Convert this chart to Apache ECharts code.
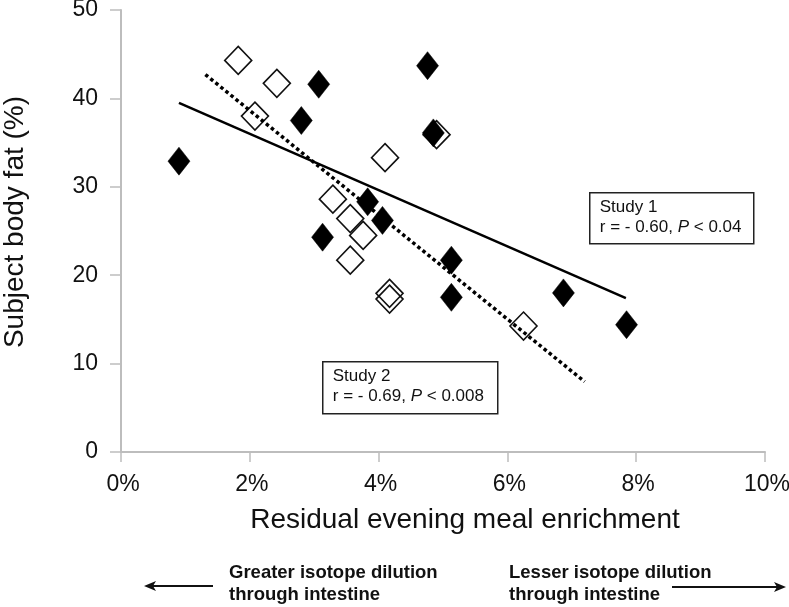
<!DOCTYPE html>
<html>
<head>
<meta charset="utf-8">
<script src="https://cdn.jsdelivr.net/npm/echarts@6/dist/echarts.min.js"></script>
<style>
html,body{margin:0;padding:0;background:#fff;}
#chart{width:789px;height:607px;}
</style>
</head>
<body>
<div id="chart"></div>
<script>
// Study 1 (filled diamonds, solid regression line)
const study1X = [0.90, 2.80, 3.07, 3.13, 3.83, 4.06, 4.76, 4.85, 5.13, 5.13, 6.87, 7.85];
const study1Y = [32.9, 37.5, 41.6, 24.3, 28.3, 26.2, 43.7, 36.1, 21.7, 17.5, 18.0, 14.4];
// Study 2 (open diamonds, dotted regression line)
const study2X = [1.82, 2.08, 2.42, 3.29, 3.56, 3.56, 3.76, 4.10, 4.17, 4.17, 4.90, 6.25];
const study2Y = [44.3, 38.0, 41.7, 28.6, 26.4, 21.7, 24.5, 33.3, 17.95, 17.3, 35.9, 14.25];
// regression line end points
const fit1X = [0.90, 7.84];
const fit1Y = [39.5, 17.4];
const fit2X = [1.31, 7.20];
const fit2Y = [42.7, 7.95];
// axes
const xTicks = [0, 2, 4, 6, 8, 10];
const yTicks = [0, 10, 20, 30, 40, 50];
const xTitle = 'Residual evening meal enrichment';
const yTitle = 'Subject body fat (%)';
const study1Label = ['Study 1', 'r = - 0.60, ', 'P', ' < 0.04'];
const study2Label = ['Study 2', 'r = - 0.69, ', 'P', ' < 0.008'];
const leftNote = ['Greater isotope dilution', 'through intestine'];
const rightNote = ['Lesser isotope dilution', 'through intestine'];

const FONT = "'Liberation Sans', Arial, sans-serif";
const zip = (a, b) => a.map((v, i) => [v, b[i]]);

const chart = echarts.init(document.getElementById('chart'), null, {renderer: 'canvas'});
const axisGray = '#bdbdbd';

function boxGroup(x, y, w, h, lab) {
  return {
    type: 'group', left: x, top: y,
    children: [
      {type: 'rect', shape: {x: 0, y: 0, width: w, height: h},
       style: {fill: '#fff', stroke: '#222', lineWidth: 1.5}},
      {type: 'text', x: 10, y: 5,
       style: {
         text: '{n|' + lab[0] + '}\n{n|' + lab[1] + '}{i|' + lab[2] + '}{n|' + lab[3] + '}',
         rich: {
           n: {fontFamily: FONT, fontSize: 17, lineHeight: 20, fill: '#111'},
           i: {fontFamily: FONT, fontSize: 17, lineHeight: 20, fontStyle: 'italic', fill: '#111'}
         }
       }}
    ]
  };
}

const option = {
  backgroundColor: '#fff',
  animation: false,
  grid: {left: 121, right: 24, top: 10, bottom: 155, containLabel: false, outerBoundsMode: 'none'},
  xAxis: {
    type: 'value', min: xTicks[0], max: xTicks[xTicks.length - 1], interval: 2,
    axisLine: {show: true, lineStyle: {color: axisGray, width: 2}},
    axisTick: {show: true, inside: false, length: 10, lineStyle: {color: axisGray, width: 1.5}},
    splitLine: {show: false},
    axisLabel: {formatter: '{value}%', fontFamily: FONT, fontSize: 23, color: '#111', margin: 21,
                padding: [0, 0, 0, 4]},
    name: xTitle, nameLocation: 'middle', nameGap: 54,
    nameTextStyle: {fontFamily: FONT, fontSize: 28, color: '#111', padding: [0, 0, 0, 44]}
  },
  yAxis: {
    type: 'value', min: yTicks[0], max: yTicks[yTicks.length - 1], interval: 10,
    axisLine: {show: true, lineStyle: {color: axisGray, width: 2}},
    axisTick: {show: true, inside: false, length: 11, lineStyle: {color: axisGray, width: 1.5}},
    splitLine: {show: false},
    axisLabel: {fontFamily: FONT, fontSize: 23, color: '#111', margin: 23},
    name: yTitle, nameLocation: 'middle', nameGap: 92, nameRotate: 90,
    nameTextStyle: {fontFamily: FONT, fontSize: 28, color: '#111', padding: [0, 0, 0, 18]}
  },
  series: [
    {
      name: 'Study 2', type: 'scatter', z: 2,
      data: zip(study2X, study2Y),
      symbol: 'diamond', symbolSize: [27, 28],
      itemStyle: {color: 'rgba(255,255,255,0)', borderColor: '#111', borderWidth: 1.6, opacity: 1}
    },
    {
      name: 'Study 1', type: 'scatter', z: 3,
      data: zip(study1X, study1Y),
      symbol: 'diamond', symbolSize: [22, 28],
      itemStyle: {color: '#000', borderColor: '#000', borderWidth: 0.5, opacity: 1}
    },
    {
      name: 'Fit 1', type: 'line', z: 4, data: zip(fit1X, fit1Y),
      showSymbol: false, symbol: 'none',
      lineStyle: {color: '#000', width: 2.5, type: 'solid'}
    },
    {
      name: 'Fit 2', type: 'line', z: 4, data: zip(fit2X, fit2Y),
      showSymbol: false, symbol: 'none',
      lineStyle: {color: '#000', width: 3.5, type: [3.5, 3], cap: 'butt'}
    }
  ],
  graphic: [
    boxGroup(589, 192, 164, 51, study1Label),
    boxGroup(322, 361, 175, 52, study2Label),
    {type: 'text', left: 229, top: 562,
     style: {text: leftNote.join('\n'), fontFamily: FONT, fontSize: 18.5, fontWeight: 'bold', lineHeight: 22, fill: '#111'}},
    {type: 'text', left: 509, top: 562,
     style: {text: rightNote.join('\n'), fontFamily: FONT, fontSize: 18.5, fontWeight: 'bold', lineHeight: 22, fill: '#111'}},
    {type: 'line', shape: {x1: 150, y1: 586, x2: 213, y2: 586}, style: {stroke: '#111', lineWidth: 2}},
    {type: 'polygon', shape: {points: [[144, 586], [156, 581], [153, 586], [156, 591]]}, style: {fill: '#111'}},
    {type: 'line', shape: {x1: 672, y1: 587, x2: 780, y2: 587}, style: {stroke: '#111', lineWidth: 2}},
    {type: 'polygon', shape: {points: [[786, 587], [774, 582], [777, 587], [774, 592]]}, style: {fill: '#111'}}
  ]
};
chart.setOption(option);
</script>
</body>
</html>
